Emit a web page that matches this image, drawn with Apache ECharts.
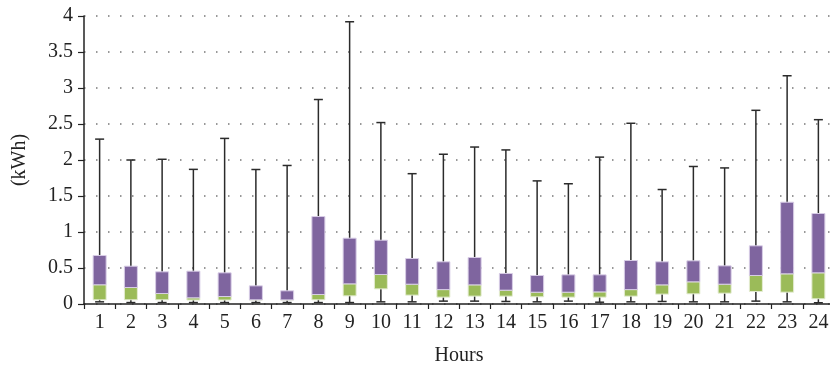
<!DOCTYPE html>
<html>
<head>
<meta charset="utf-8">
<script src="https://cdn.jsdelivr.net/npm/echarts@6/dist/echarts.min.js"></script>
<style>
  html, body { margin: 0; padding: 0; background: #fff; }
  #box1 { width: 830px; height: 368px; }
</style>
</head>
<body>
<div id="box1"></div>
<script>
// hourly consumption box plot: whiskers min-max, green Q1-median, purple median-Q3
var hours = ['1', '2', '3', '4', '5', '6', '7', '8', '9', '10', '11', '12',
    '13', '14', '15', '16', '17', '18', '19', '20', '21', '22', '23', '24'];
var minVals = [0.03, 0.02, 0.02, 0.02, 0.02, 0.02, 0.02, 0.02, 0.02, 0.03, 0.03, 0.04,
    0.04, 0.035, 0.03, 0.04, 0.025, 0.03, 0.035, 0.03, 0.03, 0.04, 0.03, 0.017];
var q1Vals = [0.058, 0.058, 0.058, 0.055, 0.055, 0.055, 0.055, 0.058, 0.113, 0.21, 0.123, 0.095,
    0.109, 0.109, 0.1, 0.095, 0.095, 0.109, 0.137, 0.141, 0.15, 0.174, 0.164, 0.072];
var medianVals = [0.267, 0.229, 0.146, 0.086, 0.104, 0.058, 0.057, 0.132, 0.28, 0.41, 0.275, 0.2,
    0.266, 0.192, 0.164, 0.164, 0.168, 0.2, 0.266, 0.308, 0.275, 0.396, 0.419, 0.433];
var q3Vals = [0.674, 0.525, 0.447, 0.456, 0.433, 0.252, 0.183, 1.215, 0.914, 0.886, 0.632, 0.586,
    0.646, 0.424, 0.396, 0.405, 0.405, 0.604, 0.586, 0.6, 0.53, 0.808, 1.414, 1.257];
var maxVals = [2.29, 2.0, 2.01, 1.87, 2.3, 1.868, 1.924, 2.84, 3.92, 2.52, 1.81, 2.08,
    2.18, 2.14, 1.71, 1.67, 2.04, 2.51, 1.59, 1.91, 1.89, 2.69, 3.17, 2.56];

var boxData = hours.map(function (h, i) {
    return [i, minVals[i], q1Vals[i], medianVals[i], q3Vals[i], maxVals[i]];
});

var serif = '"Liberation Serif", "DejaVu Serif", serif';

function renderBox(params, api) {
    var idx = api.value(0);
    var pMin = api.coord([idx, api.value(1)]);
    var pQ1 = api.coord([idx, api.value(2)]);
    var pMed = api.coord([idx, api.value(3)]);
    var pQ3 = api.coord([idx, api.value(4)]);
    var pMax = api.coord([idx, api.value(5)]);
    var x = pMin[0];
    var boxW = 13;
    var capW = 9;
    var lineStyle = { stroke: '#2b2b2b', lineWidth: 1.5 };
    return {
        type: 'group',
        children: [
            { type: 'line', shape: { x1: x, y1: pMin[1], x2: x, y2: pMax[1] }, style: lineStyle },
            { type: 'line', shape: { x1: x - capW / 2, y1: pMax[1], x2: x + capW / 2, y2: pMax[1] }, style: lineStyle },
            { type: 'line', shape: { x1: x - capW / 2, y1: pMin[1], x2: x + capW / 2, y2: pMin[1] }, style: lineStyle },
            {
                type: 'rect',
                shape: { x: x - boxW / 2, y: pMed[1], width: boxW, height: pQ1[1] - pMed[1] },
                style: { fill: '#9bbb59', stroke: '#e4ecd2', lineWidth: 1 }
            },
            {
                type: 'rect',
                shape: { x: x - boxW / 2, y: pQ3[1], width: boxW, height: pMed[1] - pQ3[1] },
                style: { fill: '#7f659f', stroke: '#d8cde6', lineWidth: 1 }
            }
        ]
    };
}

var myChart1 = echarts.init(document.getElementById('box1'));
var option1 = {
    animation: false,
    grid: {
        left: 84,
        top: 16,
        width: 750,
        bottom: 64,
        outerBoundsMode: 'none'
    },
    xAxis: {
        type: 'category',
        data: hours,
        name: 'Hours',
        nameLocation: 'middle',
        nameGap: 42,
        nameTextStyle: { fontFamily: serif, fontSize: 20, color: '#222' },
        axisLine: { lineStyle: { color: '#222', width: 1.5 } },
        axisTick: { show: true, length: 5, lineStyle: { color: '#222', width: 1.2 } },
        axisLabel: { fontFamily: serif, fontSize: 20, color: '#222', margin: 9 }
    },
    yAxis: {
        type: 'value',
        min: 0,
        max: 4,
        interval: 0.5,
        name: '(kWh)',
        nameLocation: 'middle',
        nameGap: 54,
        nameTextStyle: { fontFamily: serif, fontSize: 20, color: '#222' },
        axisLine: { show: true, lineStyle: { color: '#222', width: 1.5 } },
        axisTick: { show: true, length: 6, lineStyle: { color: '#222', width: 1.2 } },
        axisLabel: { fontFamily: serif, fontSize: 20, color: '#222', margin: 11 },
        splitLine: {
            show: true,
            lineStyle: { color: '#777', width: 1.5, type: [1.5, 10.5], dashOffset: -12 }
        }
    },
    series: [
        {
            type: 'custom',
            renderItem: renderBox,
            encode: { x: 0, y: [1, 2, 3, 4, 5] },
            data: boxData,
            clip: false
        }
    ]
};

option1 && myChart1.setOption(option1);
</script>
</body>
</html>
